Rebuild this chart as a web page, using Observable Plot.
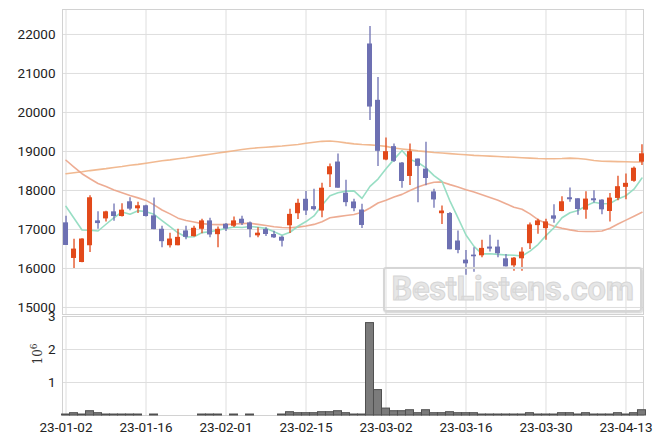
<!DOCTYPE html>
<html><head><meta charset="utf-8">
<script src="https://cdn.jsdelivr.net/npm/d3@7"></script>
<script src="https://cdn.jsdelivr.net/npm/@observablehq/plot@0.6"></script>
<style>
body{margin:0;background:#fff;font-family:Roboto,sans-serif}
#wrap{position:relative;width:663px;height:444px;overflow:hidden}
#wrap svg{display:block}
#wm{position:absolute;left:383px;top:267px;width:255px;height:41px;border:2px solid #d6d6d6;border-radius:3px;box-shadow:1px 1px 2px #d0d0d0;font:bold 32.5px Roboto,sans-serif;color:#e6e6e6;-webkit-text-stroke:1px #d6d6d6;text-align:center;line-height:41px;letter-spacing:-0.2px}
</style></head>
<body><div id="wrap"></div>
<script>
const dates = ["2023-01-02","2023-01-03","2023-01-04","2023-01-05","2023-01-06","2023-01-09","2023-01-10","2023-01-11","2023-01-12","2023-01-13",
"2023-01-16","2023-01-17","2023-01-18","2023-01-19","2023-01-20","2023-01-25","2023-01-26","2023-01-27","2023-01-30","2023-01-31",
"2023-02-01","2023-02-02","2023-02-03","2023-02-06","2023-02-07","2023-02-08","2023-02-09","2023-02-10","2023-02-13","2023-02-14",
"2023-02-15","2023-02-16","2023-02-17","2023-02-20","2023-02-21","2023-02-22","2023-02-23","2023-02-24","2023-02-27","2023-02-28",
"2023-03-02","2023-03-03","2023-03-06","2023-03-07","2023-03-08","2023-03-09","2023-03-10","2023-03-13","2023-03-14","2023-03-15",
"2023-03-16","2023-03-17","2023-03-20","2023-03-21","2023-03-22","2023-03-23","2023-03-24","2023-03-27","2023-03-28","2023-03-29",
"2023-03-30","2023-03-31","2023-04-03","2023-04-04","2023-04-05","2023-04-06","2023-04-07","2023-04-10","2023-04-11","2023-04-12",
"2023-04-13","2023-04-14","2023-04-17"];
const open = [17170,16257,16153,16583,17220,17271,17452,17332,17710,17530,
17607,17349,17005,16583,16583,16962,16816,17005,17220,16867,
17134,17082,17263,17168,16837,17000,16871,16802,17095,17404,
17774,17585,17473,18402,18729,17929,17705,17499,21756,20311,
18780,19124,18703,18359,18806,18548,17963,17404,17409,16704,
16214,16343,16325,16549,16549,16248,16067,16248,16635,17099,
17022,17349,17461,17813,17787,17495,17787,17753,17461,17796,
18080,18235,18725];
const high = [17340,16747,16760,17865,17452,17470,17650,17658,17813,17700,
17620,17804,17082,16902,17005,17082,17082,17263,17289,17065,
17151,17323,17340,17194,17043,17043,16957,16828,17516,17774,
17972,18032,18187,18677,18935,18264,17774,17645,22203,20896,
19348,19193,18720,19193,18810,19236,18032,17602,17435,16962,
16463,16532,16721,16850,16721,16360,16283,16532,17168,17263,
17263,17633,17839,18063,17790,17968,17994,17760,17925,18364,
18424,18600,19172];
const low = [16590,15999,16150,16411,17005,17194,17211,17323,17478,17409,
17320,16990,16532,16523,16580,16738,16807,16893,16790,16532,
16945,17048,17099,16790,16785,16819,16768,16553,16897,17258,
17361,17473,17301,18075,18058,17585,17456,17026,19795,18617,
18763,18720,18058,18127,17688,18118,17542,17129,16480,16377,
15827,15904,16274,16420,16274,16040,15930,15930,16489,16876,
16721,17160,17452,17701,17366,17263,17676,17375,17194,17736,
17762,18210,18639];
const close = [16590,16497,16755,17813,17151,17452,17332,17495,17521,17607,
17332,16996,16687,16755,16798,16798,17031,17220,16859,17005,
17013,17220,17151,16996,16905,16871,16785,16699,17387,17671,
17473,17507,18058,18608,18058,17688,17533,17103,20139,19004,
18995,18746,18230,18995,18617,18307,17757,17473,16480,16463,
16119,16300,16515,16497,16377,16042,16265,16420,17117,17220,
17194,17263,17710,17762,17512,17779,17736,17504,17805,18097,
18183,18570,18940];
const volume = [30000,70000,30000,130000,70000,30000,30000,30000,30000,30000,
0,30000,0,0,0,0,0,30000,30000,30000,
0,30000,0,30000,0,0,0,30000,100000,70000,
70000,70000,100000,100000,130000,70000,30000,30000,2800000,770000,
210000,130000,130000,160000,70000,160000,70000,70000,100000,70000,
70000,70000,30000,30000,30000,30000,30000,30000,70000,30000,
30000,30000,70000,70000,30000,70000,30000,30000,30000,70000,
30000,70000,160000];
const ma5 = [17590,17289,16988,16979,16961,17134,17301,17449,17390,17481,
17457,17390,17229,17075,16914,16807,16814,16920,16941,16983,
17026,17063,17050,17077,17057,17029,16942,16851,16929,17083,
17203,17347,17619,17863,17941,17984,17989,17798,18104,18293,
18555,18797,19023,18794,18717,18579,18381,18230,17727,17296,
16858,16567,16375,16379,16362,16346,16339,16320,16444,16613,
16843,17043,17301,17430,17488,17605,17700,17659,17667,17784,
17865,18032,18319];
const ma20 = [18775,18600,18430,18300,18180,18100,18010,17940,17870,17810,
17745,17630,17500,17400,17290,17230,17190,17150,17130,17125,
17125,17140,17150,17160,17130,17100,17070,17050,17045,17060,
17090,17130,17200,17300,17330,17360,17385,17440,17550,17680,
17750,17830,17900,18000,18090,18160,18210,18220,18150,18090,
18020,17960,17890,17820,17750,17660,17570,17520,17400,17250,
17160,17080,17030,16990,16955,16950,16950,16960,17030,17140,
17240,17340,17440];
const ma120 = [18430,18455,18480,18510,18535,18560,18590,18615,18645,18670,
18700,18730,18760,18785,18815,18840,18870,18900,18930,18960,
18990,19020,19050,19075,19095,19110,19125,19140,19160,19180,
19210,19235,19260,19270,19250,19220,19195,19180,19170,19155,
19130,19090,19065,19040,19015,18995,18975,18960,18945,18930,
18915,18900,18890,18880,18870,18860,18850,18840,18830,18820,
18815,18815,18820,18830,18820,18800,18770,18750,18745,18740,
18735,18730,18730];
const priceTicks = [15000,16000,17000,18000,19000,20000,21000,22000];
const volTicks = [1000000,2000000,3000000];
const xTickIdx = [0,10,20,30,40,50,60,70];

const data = dates.map((d,i)=>({i, date:d, open:open[i], high:high[i], low:low[i], close:close[i],
  volume:volume[i], ma5:ma5[i], ma20:ma20[i], ma120:ma120[i]}));

const UP = "#e2491a", DOWN = "#6d70b2";
const col = d => d.close >= d.open ? UP : DOWN;
const xDomain = [-0.44, 72.19];
const grid = "#dedede";
const textStyle = {fontFamily: "Roboto, sans-serif", fontSize: "13.5px", color: "#222", background: "transparent", overflow: "visible"};

const price = Plot.plot({
  width: 663, height: 315, marginLeft: 62, marginRight: 20, marginTop: 9, marginBottom: 1,
  style: textStyle,
  x: {domain: xDomain, axis: null},
  y: {domain: [14820, 22640], ticks: priceTicks, tickSize: 0, tickPadding: 7, tickFormat: d => String(d), label: null},
  color: {type: "identity"},
  marks: [
    Plot.gridY(priceTicks, {stroke: grid, strokeOpacity: 1}),
    Plot.gridX(xTickIdx, {stroke: grid, strokeOpacity: 1}),
    Plot.frame({stroke: "#d2d2d2"}),
    Plot.line(data, {x: "i", y: "ma120", stroke: "#efb185", strokeWidth: 1.6, strokeOpacity: 0.9}),
    Plot.line(data, {x: "i", y: "ma20", stroke: "#eba387", strokeWidth: 1.6, strokeOpacity: 0.9}),
    Plot.line(data, {x: "i", y: "ma5", stroke: "#92dcc1", strokeWidth: 1.6, strokeOpacity: 0.95}),
    Plot.ruleX(data, {x: "i", y1: "low", y2: "high", stroke: col, strokeWidth: 1.3}),
    Plot.rect(data, {x1: d => d.i - 0.5, x2: d => d.i + 0.5, insetLeft: 1.5, insetRight: 1.5,
      y1: "open", y2: "close", fill: col})
  ]
});

const vol = Plot.plot({
  width: 663, height: 129, marginLeft: 62, marginRight: 20, marginTop: 1, marginBottom: 29,
  style: textStyle,
  x: {domain: xDomain, ticks: xTickIdx, tickFormat: i => dates[i].slice(2), tickSize: 0, tickPadding: 7, label: null},
  y: {domain: [0, 3000000], ticks: volTicks, tickFormat: d => String(d / 1e6), tickSize: 0, tickPadding: 7, label: null},
  marks: [
    Plot.gridY(volTicks, {stroke: grid, strokeOpacity: 1}),
    Plot.gridX(xTickIdx, {stroke: grid, strokeOpacity: 1}),
    Plot.frame({stroke: "#d2d2d2"}),
    Plot.rectY(data.filter(d => d.volume > 0), {x1: d => d.i - 0.5, x2: d => d.i + 0.5, y: "volume",
      fill: "#7b7b7b", stroke: "#505050", strokeWidth: 1})
  ]
});

const wrap = document.getElementById("wrap");
wrap.style.background = "#fff";
wrap.appendChild(price);
wrap.appendChild(vol);
const lab = document.createElement("div");
lab.innerHTML = "10<sup style='font-size:9px'>6</sup>";
lab.style.cssText = "position:absolute;left:26px;top:346px;font:12px 'DejaVu Serif',serif;color:#333;transform:rotate(-90deg);transform-origin:center;";
wrap.appendChild(lab);
const wm = document.createElement("div");
wm.id = "wm";
wm.textContent = "BestListens.com";
wrap.appendChild(wm);
</script>
</body></html>
